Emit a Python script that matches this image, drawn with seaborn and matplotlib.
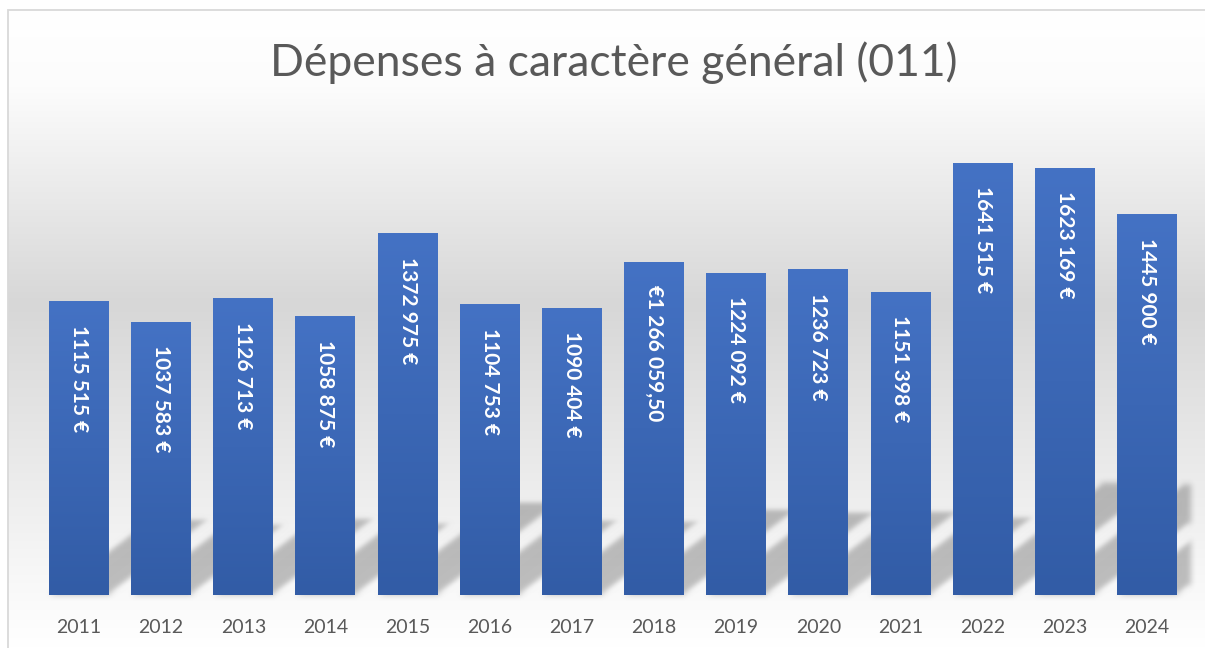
import numpy as np
import pandas as pd
import seaborn as sns
import matplotlib.pyplot as plt
import matplotlib.transforms as mtransforms
from matplotlib.patches import Rectangle
from matplotlib.collections import PatchCollection
from matplotlib.colors import LinearSegmentedColormap

# Data
years = ['2011', '2012', '2013', '2014', '2015', '2016', '2017',
         '2018', '2019', '2020', '2021', '2022', '2023', '2024']
amounts = [1115515, 1037583, 1126713, 1058875, 1372975, 1104753, 1090404,
           1266059.50, 1224092, 1236723, 1151398, 1641515, 1623169, 1445900]
value_labels = ['1115 515 €', '1037 583 €', '1126 713 €', '1058 875 €',
                '1372 975 €', '1104 753 €', '1090 404 €', '€1 266 059,50',
                '1224 092 €', '1236 723 €', '1151 398 €', '1641 515 €',
                '1623 169 €', '1445 900 €']
title = 'Dépenses à caractère général (011)'

df = pd.DataFrame({'year': years, 'amount': amounts})

sns.set_theme(style='white')
plt.rcParams['font.family'] = ['Lato', 'DejaVu Sans']

W, H = 1205, 648
fig = plt.figure(figsize=(W / 100, H / 100), dpi=100)
fig.patch.set_facecolor('white')

# Chart area background: white -> grey -> white vertical gradient
bg = fig.add_axes([8 / W, 0, 1 - 8 / W, (H - 10) / H])
bg_cmap = LinearSegmentedColormap.from_list(
    'bg', [(0, '#ffffff'), (0.12, '#fcfcfc'), (0.46, '#d7d7d7'), (0.9, '#f8f8f8'), (1, '#ffffff')])
bg.imshow(np.linspace(0, 1, 256).reshape(-1, 1), cmap=bg_cmap, aspect='auto',
          extent=(0, 1, 0, 1), origin='upper')
bg.set_xlim(0, 1)
bg.set_ylim(0, 1)
bg.axis('off')
fig.add_artist(Rectangle((8 / W, -0.1), 1.1, (H - 10) / H + 0.1, transform=fig.transFigure,
                         fill=False, edgecolor='#d9d9d9', linewidth=1.3))

# Main plot area (pixel layout)
left, right, bottom, top = 20, 1191, 595, 121
ax = fig.add_axes([left / W, (H - bottom) / H, (right - left) / W, (bottom - top) / H])
ax.set_facecolor('none')

sns.barplot(data=df, x='year', y='amount', color='#4472c4', width=0.73,
            saturation=1, linewidth=0, edgecolor='none', ax=ax, zorder=2)

step = 82.15
ax.set_xlim((left - 79) / step, (right - 79) / step)
ax.set_ylim(0, 1.8e6)

for s in ax.spines.values():
    s.set_visible(False)
ax.set_yticks([])
ax.set_xlabel('')
ax.set_ylabel('')
ax.tick_params(axis='x', length=0, pad=17, labelsize=14, labelcolor='#595959')

# Vertical gradient inside each bar
bar_cmap = LinearSegmentedColormap.from_list('bar', ['#325ca6', '#4472c4'])
grad = np.linspace(0, 1, 128).reshape(-1, 1)
bars = list(ax.patches)
for p in bars:
    x0, w, h = p.get_x(), p.get_width(), p.get_height()
    im = ax.imshow(grad, cmap=bar_cmap, aspect='auto', origin='lower',
                   extent=(x0, x0 + w, 0, h), zorder=2.1)
    im.set_clip_path(p)
ax.set_xlim((left - 79) / step, (right - 79) / step)
ax.set_ylim(0, 1.8e6)


# Soft perspective shadow behind the bars
def blur(im, dpi, sigma=3.0):
    pad = int(3 * sigma)
    src = np.pad(im, ((pad, pad), (pad, pad), (0, 0)))
    k = np.exp(-0.5 * (np.arange(-pad, pad + 1) / sigma) ** 2)
    k /= k.sum()
    out = np.zeros_like(src)
    for i, wk in enumerate(k):
        out += wk * np.roll(src, i - pad, axis=0)
    src = out
    out = np.zeros_like(src)
    for i, wk in enumerate(k):
        out += wk * np.roll(src, i - pad, axis=1)
    return out, -pad, -pad


shadow_ratio = 0.26
y0 = ax.transData.transform((0, 0))[1]
skew = (mtransforms.Affine2D().scale(1, shadow_ratio) + ax.transData
        + mtransforms.Affine2D().translate(0, -y0).skew(np.arctan(1.33), 0).translate(0, y0))
shadows = PatchCollection([Rectangle((p.get_x(), 0), p.get_width(), p.get_height()) for p in bars],
                          facecolor='black', edgecolor='none', alpha=0.24, zorder=1)
shadows.set_transform(skew)
shadows.set_agg_filter(blur)
ax.add_collection(shadows)

# Value labels, rotated, inside the bars
for i, (v, lab) in enumerate(zip(amounts, value_labels)):
    ax.annotate(lab, (i, v), xytext=(0, -17), textcoords='offset points',
                rotation=-90, ha='center', va='top', color='white',
                fontsize=15, fontweight='bold', zorder=3)

fig.text(0.509, 1 - 63 / H, title, ha='center', va='center', fontsize=32,
         color='#595959')

fig.savefig('out.png', dpi=100)
